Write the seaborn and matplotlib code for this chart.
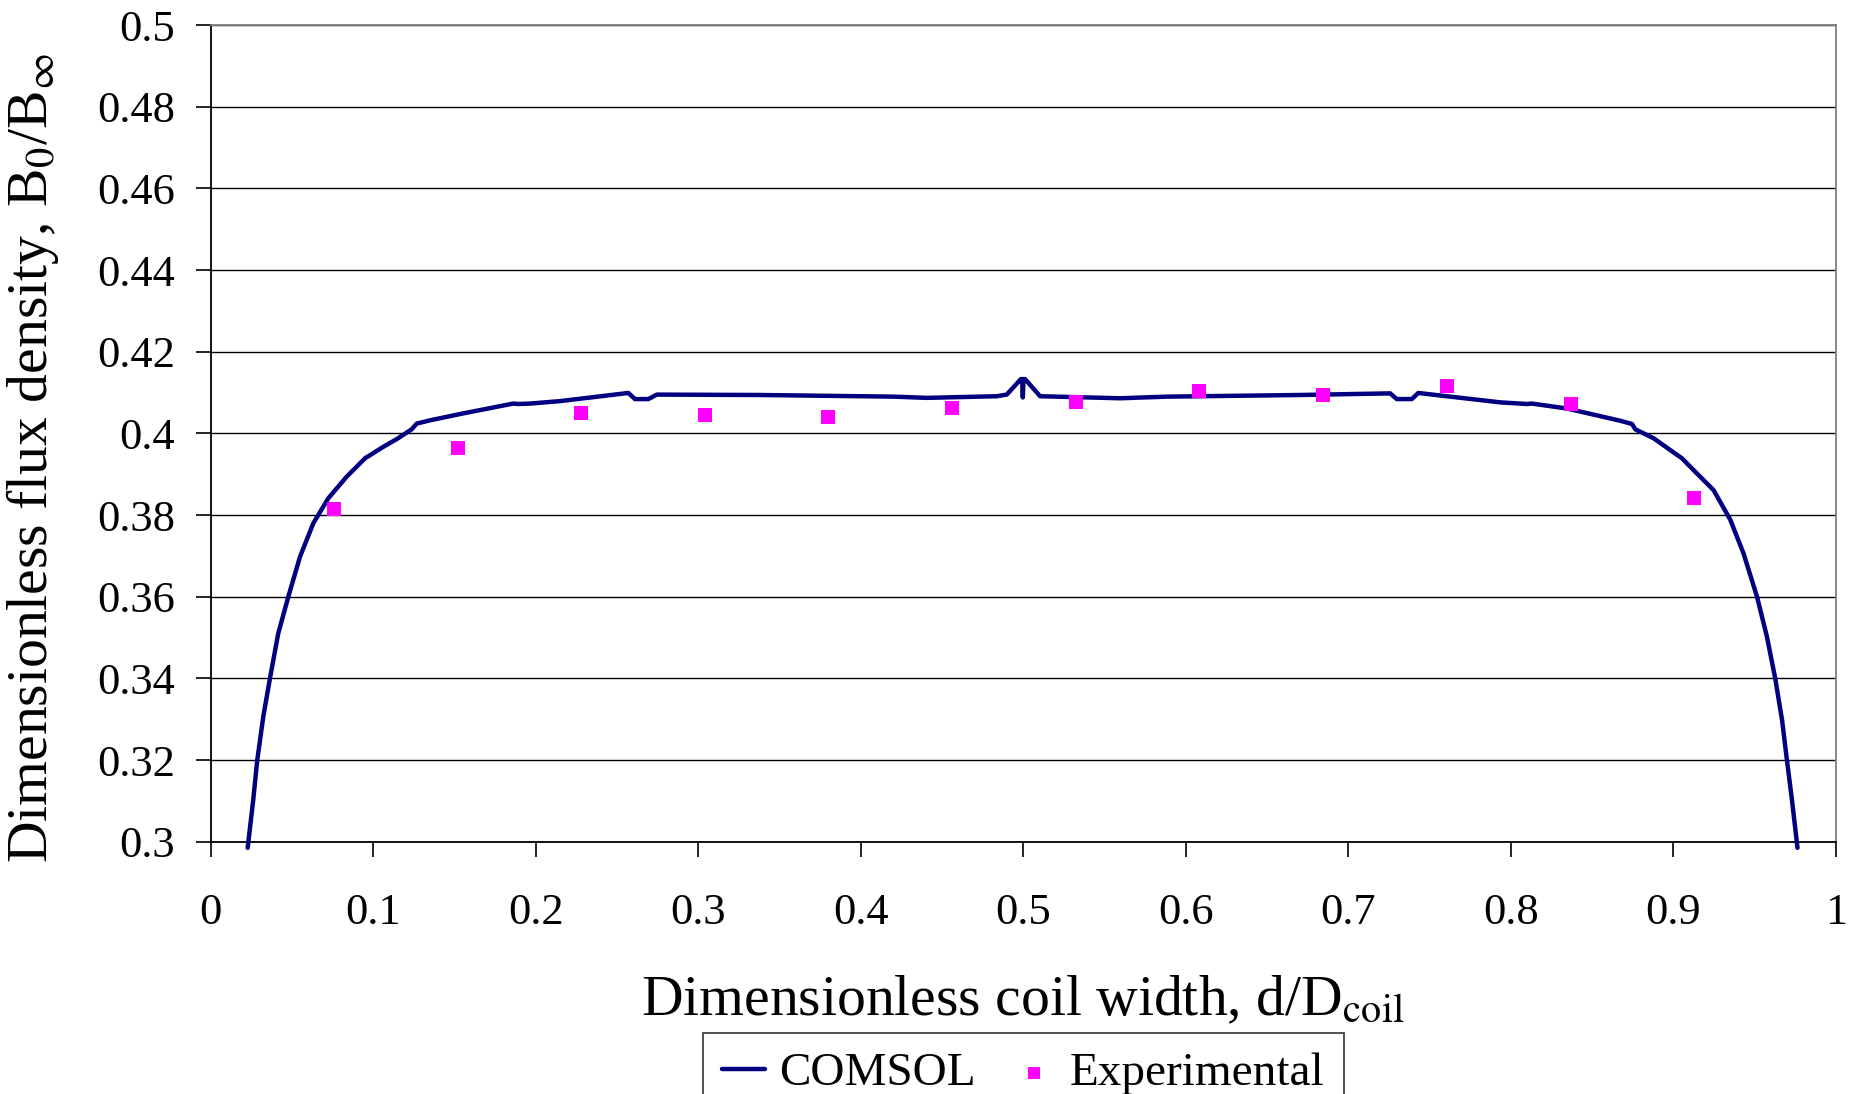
import matplotlib
matplotlib.use("Agg")
import matplotlib.pyplot as plt
import matplotlib.ticker as mticker
import seaborn as sns

# COMSOL curve
comsol_x = [0.0228, 0.0262, 0.0287, 0.0324, 0.0365, 0.0416, 0.0478, 0.0550, 0.0632, 0.0724,
            0.0837, 0.0950, 0.1062, 0.1145, 0.1237, 0.1268, 0.1350, 0.1554, 0.1862, 0.1893,
            0.1965, 0.2149, 0.2570, 0.2611, 0.2693, 0.2745, 0.3380, 0.4200, 0.4406, 0.4837,
            0.4898, 0.4985, 0.4993, 0.4997, 0.5001, 0.5011, 0.5103, 0.5595, 0.5883, 0.6700,
            0.7257, 0.7298, 0.7390, 0.7430, 0.7934, 0.8098, 0.8129, 0.8344, 0.8672, 0.8745,
            0.8765, 0.8878, 0.9052, 0.9154, 0.9247, 0.9350, 0.9431, 0.9514, 0.9575, 0.9626,
            0.9668, 0.9698, 0.9729, 0.9763]
comsol_y = [0.2985, 0.3102, 0.3200, 0.3306, 0.3400, 0.3510, 0.3600, 0.3698, 0.3780, 0.3841,
            0.3894, 0.3939, 0.3967, 0.3986, 0.4010, 0.4024, 0.4032, 0.4049, 0.4073, 0.4072,
            0.4073, 0.4079, 0.4099, 0.4084, 0.4084, 0.4095, 0.4094, 0.4090, 0.4087, 0.4091,
            0.4095, 0.4133, 0.4133, 0.4088, 0.4133, 0.4133, 0.4091, 0.4086, 0.4090, 0.4094,
            0.4098, 0.4084, 0.4084, 0.4099, 0.4076, 0.4072, 0.4073, 0.4061, 0.4031, 0.4023,
            0.4010, 0.3988, 0.3939, 0.3898, 0.3861, 0.3788, 0.3706, 0.3600, 0.3502, 0.3400,
            0.3298, 0.3200, 0.3102, 0.2985]

# experimental measurements
exp_x = [0.0761, 0.1520, 0.2279, 0.3040, 0.3800, 0.4562, 0.5323, 0.6083, 0.6845, 0.7606, 0.8367, 0.9126]
exp_y = [0.3814, 0.3964, 0.4050, 0.4045, 0.4040, 0.4061, 0.4077, 0.4104, 0.4094, 0.4116, 0.4072, 0.3841]

sns.set_style("white")
plt.rcParams['font.family'] = ['Liberation Serif', 'DejaVu Serif']
plt.rcParams['mathtext.fontset'] = 'stix'
plt.rcParams['text.color'] = 'black'
plt.rcParams['axes.labelcolor'] = 'black'
plt.rcParams['xtick.color'] = 'black'
plt.rcParams['ytick.color'] = 'black'

fig = plt.figure(figsize=(18.54, 10.94), dpi=100)
ax = fig.add_axes([0.1136, 0.2306, 0.8767, 0.7465])

sns.lineplot(x=comsol_x, y=comsol_y, ax=ax, color='#000080', linewidth=3.2,
             sort=False, estimator=None, label='COMSOL', clip_on=False, zorder=3)
sns.scatterplot(x=exp_x, y=exp_y, ax=ax, color='#FF00FF', marker='s', s=115,
                linewidth=0, label='Experimental', zorder=4)

ax.set_xlim(0, 1)
ax.set_ylim(0.3, 0.5)
ax.set_xticks([i / 10 for i in range(11)])
ax.set_yticks([0.3 + 0.02 * i for i in range(11)])
fmt = mticker.FuncFormatter(lambda v, p: '%g' % round(v, 2))
ax.xaxis.set_major_formatter(fmt)
ax.yaxis.set_major_formatter(fmt)
ax.tick_params(axis='both', direction='out', length=15 * 0.72, width=1.2,
               colors='black', labelsize=32)
ax.tick_params(axis='x', pad=26)
ax.tick_params(axis='y', pad=15)
ax.tick_params(left=True, bottom=True)

ax.yaxis.grid(True, color='black', linewidth=1.0)
ax.set_axisbelow(True)
for side in ['left', 'bottom']:
    ax.spines[side].set_color('black')
    ax.spines[side].set_linewidth(1.3)
for side in ['top', 'right']:
    ax.spines[side].set_color('#808080')
    ax.spines[side].set_linewidth(1.3)

ax.set_xlabel(r"Dimensionless coil width, d/D$_{\mathrm{coil}}$", fontsize=41.5)
ax.set_ylabel(r"Dimensionless flux density, B$_{0}$/B$_{\infty}$", fontsize=41.5)
ax.xaxis.set_label_coords(0.5, -0.163)
ax.yaxis.set_label_coords(-0.092, 0.47)

handles, labels = ax.get_legend_handles_labels()
ax.get_legend().remove()
leg = fig.legend(handles, labels, loc='upper center', bbox_to_anchor=(0.552, 0.077),
                 ncol=2, fontsize=34, frameon=True, fancybox=False, edgecolor='black',
                 handlelength=0.9, handletextpad=0.3, columnspacing=0.8,
                 borderpad=0.4, markerscale=0.85)
leg.get_frame().set_linewidth(1.2)

fig.savefig("out.png", dpi=100)
